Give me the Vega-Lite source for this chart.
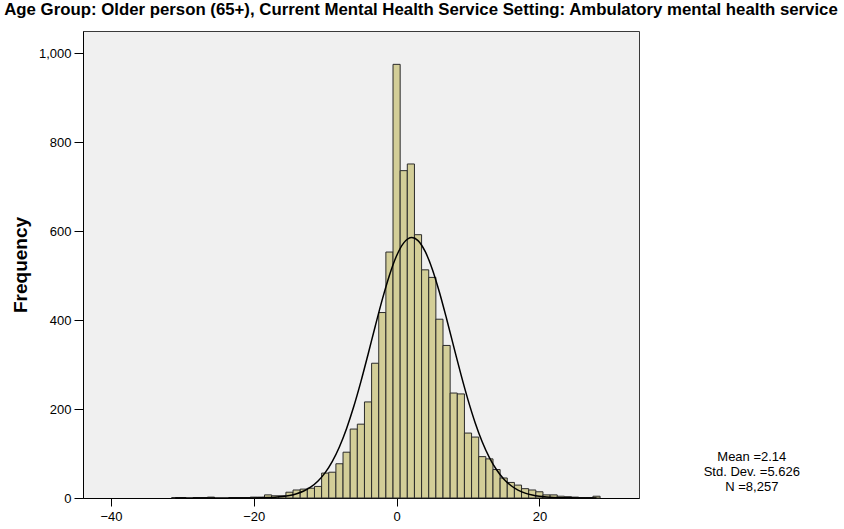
{
  "$schema": "https://vega.github.io/schema/vega-lite/v6.json",
  "autosize": {"type": "none"},
  "width": 556,
  "height": 467,
  "padding": {"top": 31, "left": 83, "right": 205, "bottom": 31},
  "background": "#ffffff",
  "config": {
    "font": "Liberation Sans",
    "view": {"fill": "#F0F0F0", "stroke": "#3a3a3a", "strokeWidth": 1}
  },
  "title": {
    "text": "Age Group: Older person (65+), Current Mental Health Service Setting: Ambulatory mental health service",
    "font": "Liberation Sans",
    "fontSize": 16.8,
    "fontWeight": "bold",
    "color": "#000000",
    "anchor": "middle",
    "dx": 60,
    "offset": 12
  },
  "datasets": {
    "bars": [
      {"x0": -31.5, "x1": -30.5, "count": 1},
      {"x0": -30.5, "x1": -29.5, "count": 1},
      {"x0": -28.5, "x1": -27.5, "count": 1},
      {"x0": -27.5, "x1": -26.5, "count": 1},
      {"x0": -26.5, "x1": -25.5, "count": 2},
      {"x0": -23.5, "x1": -22.5, "count": 1},
      {"x0": -22.5, "x1": -21.5, "count": 1},
      {"x0": -21.5, "x1": -20.5, "count": 1},
      {"x0": -20.5, "x1": -19.5, "count": 2},
      {"x0": -19.5, "x1": -18.5, "count": 2},
      {"x0": -18.5, "x1": -17.5, "count": 7},
      {"x0": -17.5, "x1": -16.5, "count": 5},
      {"x0": -16.5, "x1": -15.5, "count": 5},
      {"x0": -15.5, "x1": -14.5, "count": 13},
      {"x0": -14.5, "x1": -13.5, "count": 18},
      {"x0": -13.5, "x1": -12.5, "count": 20},
      {"x0": -12.5, "x1": -11.5, "count": 22},
      {"x0": -11.5, "x1": -10.5, "count": 26},
      {"x0": -10.5, "x1": -9.5, "count": 56},
      {"x0": -9.5, "x1": -8.5, "count": 58},
      {"x0": -8.5, "x1": -7.5, "count": 77},
      {"x0": -7.5, "x1": -6.5, "count": 103},
      {"x0": -6.5, "x1": -5.5, "count": 155},
      {"x0": -5.5, "x1": -4.5, "count": 166},
      {"x0": -4.5, "x1": -3.5, "count": 216},
      {"x0": -3.5, "x1": -2.5, "count": 303},
      {"x0": -2.5, "x1": -1.5, "count": 417},
      {"x0": -1.5, "x1": -0.5, "count": 553},
      {"x0": -0.5, "x1": 0.5, "count": 975},
      {"x0": 0.5, "x1": 1.5, "count": 736},
      {"x0": 1.5, "x1": 2.5, "count": 751},
      {"x0": 2.5, "x1": 3.5, "count": 592},
      {"x0": 3.5, "x1": 4.5, "count": 513},
      {"x0": 4.5, "x1": 5.5, "count": 496},
      {"x0": 5.5, "x1": 6.5, "count": 402},
      {"x0": 6.5, "x1": 7.5, "count": 343},
      {"x0": 7.5, "x1": 8.5, "count": 236},
      {"x0": 8.5, "x1": 9.5, "count": 234},
      {"x0": 9.5, "x1": 10.5, "count": 146},
      {"x0": 10.5, "x1": 11.5, "count": 137},
      {"x0": 11.5, "x1": 12.5, "count": 93},
      {"x0": 12.5, "x1": 13.5, "count": 88},
      {"x0": 13.5, "x1": 14.5, "count": 64},
      {"x0": 14.5, "x1": 15.5, "count": 45},
      {"x0": 15.5, "x1": 16.5, "count": 35},
      {"x0": 16.5, "x1": 17.5, "count": 29},
      {"x0": 17.5, "x1": 18.5, "count": 21},
      {"x0": 18.5, "x1": 19.5, "count": 18},
      {"x0": 19.5, "x1": 20.5, "count": 14},
      {"x0": 20.5, "x1": 21.5, "count": 7},
      {"x0": 21.5, "x1": 22.5, "count": 7},
      {"x0": 22.5, "x1": 23.5, "count": 4},
      {"x0": 23.5, "x1": 24.5, "count": 3},
      {"x0": 24.5, "x1": 25.5, "count": 2},
      {"x0": 25.5, "x1": 26.5, "count": 1},
      {"x0": 26.5, "x1": 27.5, "count": 1},
      {"x0": 27.5, "x1": 28.5, "count": 4}
    ],
    "curve": [
      {"x": -31, "y": 0},
      {"x": -26, "y": 0.001},
      {"x": -24, "y": 0.012},
      {"x": -22, "y": 0.059},
      {"x": -20, "y": 0.25},
      {"x": -19, "y": 0.5},
      {"x": -18, "y": 0.97},
      {"x": -17, "y": 1.8},
      {"x": -16, "y": 3.23},
      {"x": -15, "y": 5.65},
      {"x": -14, "y": 9.56},
      {"x": -13, "y": 15.66},
      {"x": -12, "y": 24.88},
      {"x": -11, "y": 38.28},
      {"x": -10, "y": 57.09},
      {"x": -9, "y": 82.44},
      {"x": -8, "y": 115.39},
      {"x": -7, "y": 156.45},
      {"x": -6, "y": 205.57},
      {"x": -5, "y": 261.69},
      {"x": -4, "y": 322.77},
      {"x": -3, "y": 385.73},
      {"x": -2, "y": 446.61},
      {"x": -1, "y": 501.05},
      {"x": 0, "y": 544.64},
      {"x": 1, "y": 573.6},
      {"x": 2.14, "y": 585.5},
      {"x": 3, "y": 578.7},
      {"x": 4, "y": 554.36},
      {"x": 5, "y": 514.53},
      {"x": 6, "y": 462.69},
      {"x": 7, "y": 403.17},
      {"x": 8, "y": 340.36},
      {"x": 9, "y": 278.39},
      {"x": 10, "y": 220.64},
      {"x": 11, "y": 169.42},
      {"x": 12, "y": 126.04},
      {"x": 13, "y": 90.88},
      {"x": 14, "y": 63.46},
      {"x": 15, "y": 42.95},
      {"x": 16, "y": 28.16},
      {"x": 17, "y": 17.89},
      {"x": 18, "y": 11.01},
      {"x": 19, "y": 6.57},
      {"x": 20, "y": 3.79},
      {"x": 21, "y": 2.12},
      {"x": 22, "y": 1.15},
      {"x": 23, "y": 0.61},
      {"x": 24, "y": 0.31},
      {"x": 26, "y": 0.07},
      {"x": 28, "y": 0.015}
    ],
    "stats": [
      {"label": ["Mean =2.14", "Std. Dev. =5.626", "N =8,257"]}
    ]
  },
  "layer": [
    {
      "data": {"name": "bars"},
      "mark": {"type": "rect", "fill": "#D3CE98", "stroke": "#2b2b2b", "strokeWidth": 1},
      "encoding": {
        "x": {
          "field": "x0", "type": "quantitative",
          "scale": {"domain": [-43.92, 33.95], "nice": false, "zero": false},
          "axis": {
            "values": [-40, -20, 0, 20],
            "grid": false,
            "title": null,
            "domainColor": "#000000",
            "tickColor": "#000000",
            "tickSize": 8,
            "labelFontSize": 13,
            "labelColor": "#000000",
            "labelPadding": 4,
            "labelFont": "Liberation Sans"
          }
        },
        "x2": {"field": "x1"},
        "y": {
          "field": "count", "type": "quantitative",
          "scale": {"domain": [0, 1050], "nice": false},
          "axis": {
            "values": [0, 200, 400, 600, 800, 1000],
            "format": ",d",
            "grid": false,
            "title": "Frequency",
            "titleFontSize": 19,
            "titleFontWeight": "bold",
            "titleColor": "#000000",
            "titlePadding": 8,
            "titleFont": "Liberation Sans",
            "domainColor": "#000000",
            "tickColor": "#000000",
            "tickSize": 9,
            "labelFontSize": 13,
            "labelColor": "#000000",
            "labelPadding": 3,
            "labelFont": "Liberation Sans"
          }
        },
        "y2": {"datum": 0}
      }
    },
    {
      "data": {"name": "curve"},
      "mark": {"type": "line", "color": "#000000", "strokeWidth": 1.5, "interpolate": "monotone"},
      "encoding": {
        "x": {"field": "x", "type": "quantitative"},
        "y": {"field": "y", "type": "quantitative"}
      }
    },
    {
      "data": {"name": "stats"},
      "mark": {"type": "text", "align": "center", "baseline": "alphabetic", "fontSize": 13, "lineHeight": 15, "color": "#000000", "font": "Liberation Sans"},
      "encoding": {
        "x": {"datum": 49.75, "type": "quantitative"},
        "y": {"datum": 82.2, "type": "quantitative"},
        "text": {"field": "label"}
      }
    }
  ]
}
